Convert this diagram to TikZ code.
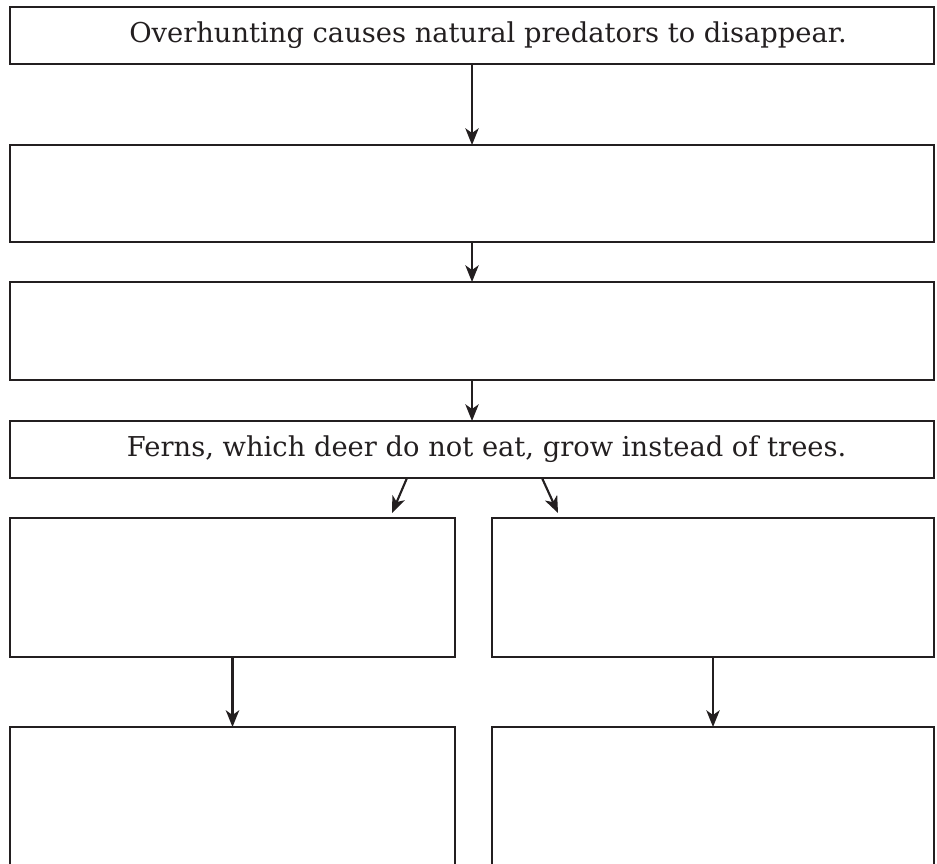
\documentclass[tikz,border=0pt]{standalone}
\usepackage{fontspec}
\setmainfont{DejaVu Serif}
\usetikzlibrary{arrows.meta,calc}
\definecolor{ink}{HTML}{231F20}
\begin{document}
\begin{tikzpicture}[x=0.75pt,y=-0.75pt,
  box/.style={draw=ink, line width=1.9pt, inner sep=0pt, outer sep=0pt, text=ink,
    font=\fontsize{20.5}{24}\selectfont},
  openbox/.style={draw=none, inner sep=0pt, outer sep=0pt},
  arr/.style={draw=ink, line width=1.6pt, -{Stealth[length=12.5pt, width=10pt, inset=3.5pt]}},
  side/.style={draw=ink, line width=1.9pt}]
\useasboundingbox (0,0) rectangle (937,863);
\node[box, minimum width=924*0.75pt, minimum height=57*0.75pt] (b1) at (472,35.5)
  {\hspace*{24pt}Overhunting causes natural predators to disappear.};
\node[box, minimum width=924*0.75pt, minimum height=97*0.75pt] (b2) at (472,193.5) {};
\node[box, minimum width=924*0.75pt, minimum height=98*0.75pt] (b3) at (472,331) {};
\node[box, minimum width=924*0.75pt, minimum height=57*0.75pt] (b4) at (472,449.5)
  {\hspace*{22pt}Ferns, which deer do not eat, grow instead of trees.};
\node[box, minimum width=445*0.75pt, minimum height=139*0.75pt] (b5) at (232.5,587.5) {};
\node[box, minimum width=442*0.75pt, minimum height=139*0.75pt] (b6) at (713,587.5) {};
\node[openbox, minimum width=445*0.75pt, minimum height=150*0.75pt] (b7) at (232.5,802) {};
\node[openbox, minimum width=442*0.75pt, minimum height=150*0.75pt] (b8) at (713,802) {};
\draw[side] (b7.south west) -- (b7.north west) -- (b7.north east) -- (b7.south east);
\draw[side] (b8.south west) -- (b8.north west) -- (b8.north east) -- (b8.south east);
\draw[arr] (b1.south) -- (b2.north);
\draw[arr] (b2.south) -- (b3.north);
\draw[arr] (b3.south) -- (b4.north);
\draw[arr] ($(b4.south)+(-65,0)$) -- ($(b5.north east)+(-63,-5)$);
\draw[arr] ($(b4.south)+(70,0)$) -- ($(b6.north west)+(66,-5)$);
\draw[arr] (b5.south) -- (b7.north);
\draw[arr] (b6.south) -- (b8.north);
\end{tikzpicture}
\end{document}
